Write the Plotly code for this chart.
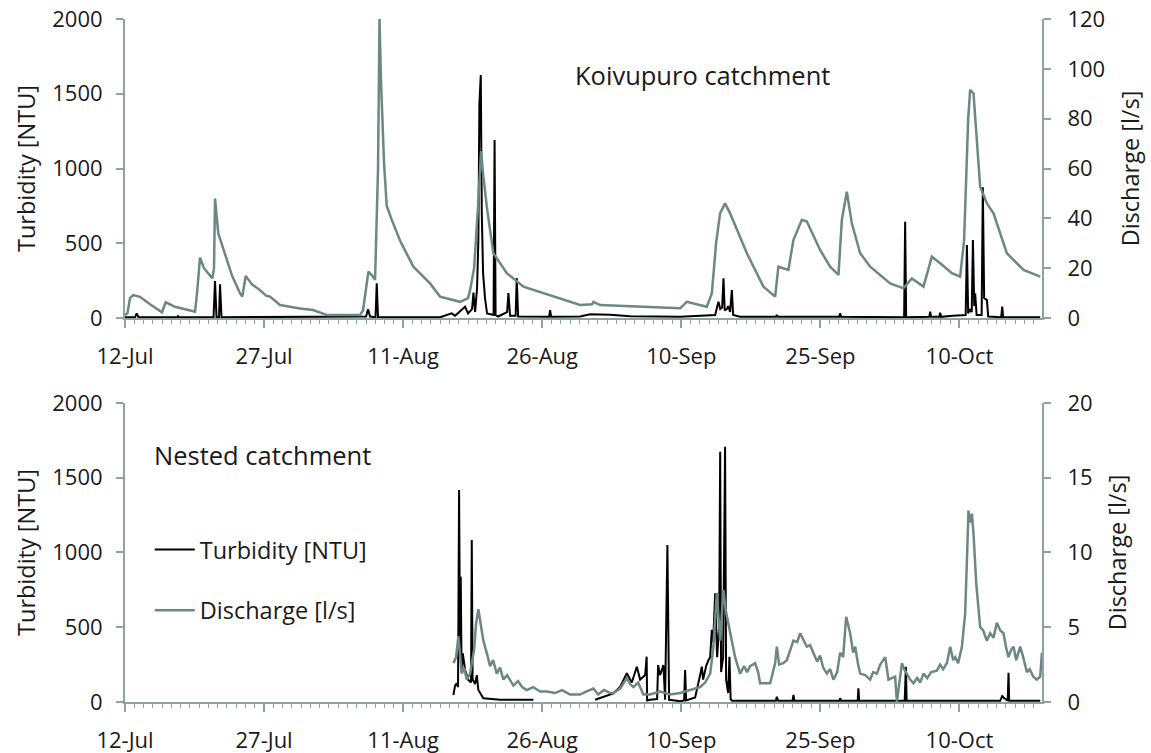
import pandas as pd
import plotly.graph_objects as go
from plotly.subplots import make_subplots

BASE = pd.Timestamp("2010-07-12")

# ---------------- Koivupuro catchment (top) ----------------
# days since 12-Jul, discharge [l/s]
top_q_days = [0, 0.27, 0.54, 0.9, 1.62, 2.7, 3.99, 4.39, 5.39, 7.55, 7.77, 8.09, 8.52, 9.42, 9.6, 9.71,
              10.06, 10.97, 11.54, 12.41, 12.65, 13.02, 13.7, 14.56, 15.21, 15.64, 16.72, 18.88, 20.28,
              21.76, 25.35, 25.67, 26.25, 26.65, 26.97, 27.29, 27.45, 27.61, 27.94, 28.23, 28.77, 29.67,
              31.1, 32.9, 33.98, 36.14, 37.0, 37.22, 37.65, 38.08, 38.4, 38.62, 39.02, 39.73, 41.18,
              42.97, 46.2, 49.08, 50.38, 50.52, 51.24, 59.87, 60.59, 62.75, 63.29, 63.75, 64.18, 64.72,
              65.26, 67.07, 68.86, 70.12, 70.47, 71.55, 72.09, 73.0, 73.54, 74.97, 76.05, 76.95, 77.31,
              77.85, 78.39, 79.29, 80.37, 82.52, 83.96, 84.86, 86.12, 87.02, 87.92, 89.18, 90.07, 90.5,
              90.94, 91.15, 91.51, 92.23, 92.96, 93.67, 95.11, 96.91, 98.71]
top_q_vals = [1.2, 2, 8, 9.2, 8.5, 5.5, 2.3, 6.3, 4.5, 2.5, 10, 24.2, 20, 15.9, 20, 48,
              34, 23.3, 17, 9.9, 8.6, 16.9, 13.5, 11.2, 9, 8.6, 5.2, 3.8, 3.2,
              1.2, 1.2, 3, 18.6, 17, 15.3, 60, 120, 95, 62, 45, 39.4, 31,
              20.6, 13.9, 8.6, 6.5, 8, 11.2, 20, 45, 67, 58, 44.7, 26, 18,
              12.6, 8.6, 5.2, 5.5, 6.5, 5.2, 3.9, 6.5, 4.5, 9.9, 30, 42, 46,
              42, 26, 12.6, 8.6, 20.6, 19.3, 31.3, 39.4, 38.7, 27.3, 20.6, 17.3, 39.4,
              50.7, 38, 26, 20.6, 13.9, 11.9, 15.9, 12.6, 24.6, 22, 18, 16.6, 31.3,
              80, 91.6, 90.2, 52.7, 46, 42, 26, 19.3, 16.6]

# days since 12-Jul, turbidity [NTU]
top_t_days = [0, 1.08, 1.26, 1.46, 5.6, 5.72, 5.84, 9.55, 9.71, 9.87, 10.14, 10.25, 10.41,
              26.0, 26.21, 26.43, 27.02, 27.15, 27.29, 33.98, 35.24, 35.6, 36.68, 37.0, 37.43,
              37.58, 37.76, 37.97, 38.11, 38.22, 38.37, 38.48, 38.62, 38.83, 39.05, 39.75, 39.86,
              39.97, 40.24, 41.21, 41.35, 41.53, 42.13, 42.25, 42.4, 43.69, 45.74, 45.85, 45.96,
              49.08, 50.16, 52.32, 54.48, 59.87, 63.65, 64.0, 64.2, 64.4, 64.55, 64.68, 64.91,
              65.05, 65.26, 65.45, 65.59, 66.34, 70.2, 70.3, 70.4, 77.03, 77.13, 77.23, 84.03,
              84.14, 84.25, 86.74, 86.84, 86.94, 87.82, 87.92, 88.02, 89.29, 90.67, 90.8, 90.94,
              91.08, 91.32, 91.45, 91.59, 91.69, 91.85, 92.39, 92.52, 92.66, 92.96, 93.1, 94.5,
              94.61, 94.71, 98.71]
top_t_vals = [5, 5, 31, 5, 5, 12, 5, 5, 247, 5, 5, 225, 5,
              10, 58, 10, 5, 232, 5, 5, 31, 15, 76, 30, 60,
              170, 40, 200, 521, 1430, 1625, 700, 300, 132, 30, 20, 1190,
              20, 10, 40, 167, 15, 15, 267, 10, 8, 8, 53, 8,
              10, 25, 22, 12, 8, 20, 109, 60, 70, 265, 50, 60,
              80, 40, 187, 20, 8, 8, 20, 8, 8, 31, 8, 5,
              644, 5, 8, 42, 8, 8, 35, 8, 15, 20, 488, 30,
              60, 40, 522, 80, 165, 20, 20, 875, 134, 120, 10, 5,
              76, 5, 5]

# ---------------- Nested catchment (bottom) ----------------
bot_q_days = [35.42, 35.71, 35.96, 36.14, 36.32, 36.57, 36.86, 37.22, 37.65, 37.86, 38.11, 38.29,
              38.65, 39.05, 39.37, 39.7, 40.1, 40.45, 40.81, 41.21, 41.89, 42.39, 42.83, 43.33,
              44.01, 44.77, 45.49, 46.39, 47.14, 48.0, 49.08, 49.73, 50.52, 51.03, 51.67, 52.32,
              52.67, 53.4, 54.12, 54.48, 54.83, 55.34, 55.91, 56.63, 57.71, 58.79, 59.87, 60.95,
              62.03, 62.57, 63.11, 63.43, 63.83, 64.19, 64.54, 64.83, 65.26, 65.8, 66.34, 66.77,
              67.1, 67.42, 67.96, 68.28, 68.5, 69.58, 70.12, 70.3, 70.55, 70.98, 71.38, 71.74,
              72.09, 72.49, 72.82, 73.14, 73.54, 73.89, 74.25, 74.65, 74.97, 75.3, 75.69, 76.05,
              76.41, 76.81, 77.13, 77.45, 77.78, 77.99, 78.21, 78.53, 78.75, 79.07, 79.29, 79.83,
              80.37, 80.69, 81.09, 81.45, 81.99, 82.34, 82.74, 83.06, 83.25, 83.5, 83.79, 84.04,
              84.33, 84.68, 85.04, 85.44, 85.76, 86.12, 86.52, 86.95, 87.56, 87.92, 88.24, 88.64,
              89.0, 89.32, 89.54, 89.86, 90.26, 90.4, 90.61, 90.83, 90.97, 91.15, 91.34, 91.51,
              91.8, 92.23, 92.55, 92.95, 93.31, 93.67, 94.03, 94.39, 94.75, 95.04, 95.29, 95.58,
              95.83, 96.12, 96.55, 96.87, 97.27, 97.57, 97.95, 98.33, 98.71, 98.89]
bot_q_vals = [2.6, 3.0, 4.4, 3.0, 1.9, 2.3, 1.5, 1.9, 3.5, 5.2, 6.2, 5.5,
              4.1, 3.2, 2.4, 2.8, 1.9, 2.3, 1.5, 1.8, 1.1, 1.4, 1.0, 0.8,
              1.0, 0.7, 0.7, 0.6, 0.8, 0.5, 0.5, 0.7, 0.9, 0.5, 0.8, 0.6,
              0.6, 0.9, 1.6, 1.2, 1.0, 1.3, 0.5, 0.5, 0.7, 0.5, 0.6, 0.8,
              1.0, 1.3, 1.9, 3.5, 7.3, 4.1, 7.5, 6.0, 4.6, 3.0, 1.9, 2.4,
              2.0, 2.4, 2.6, 2.0, 1.25, 1.25, 2.6, 3.7, 2.5, 2.6, 2.8, 3.5,
              4.1, 4.0, 4.6, 4.2, 3.7, 3.8, 3.3, 2.7, 3.1, 2.3, 1.9, 2.2,
              1.5, 2.0, 3.3, 3.0, 5.7, 5.2, 4.6, 3.3, 3.7, 2.5, 1.9, 1.8,
              1.5, 2.0, 1.9, 2.5, 3.0, 1.5, 1.6, 1.7, 0.0, 1.2, 2.6, 2.2,
              1.9, 1.5, 1.25, 1.6, 1.3, 1.9, 1.6, 2.0, 2.1, 2.5, 2.2, 2.6,
              3.7, 2.8, 3.0, 2.6, 3.7, 4.5, 5.9, 10.0, 12.8, 12.0, 12.6, 11.3,
              8.0, 5.0, 4.8, 4.1, 4.6, 4.3, 5.3, 4.8, 4.6, 3.6, 3.0, 3.5,
              3.7, 2.8, 3.7, 3.0, 2.0, 2.2, 1.7, 1.5, 1.7, 3.3]

# None marks the gap in the turbidity record
bot_t_days = [35.42, 35.6, 35.78, 35.92, 36.03, 36.14, 36.21, 36.3, 36.43, 36.68, 37.03, 37.32,
              37.4, 37.49, 37.76, 37.94, 38.11, 38.65, 40.45, 44.05, None,
              50.7, 52.67, 53.4, 54.12, 54.66, 55.2, 55.56, 56.1, 56.26, 56.31, 56.63, 57.39,
              57.5, 57.71, 58.07, 58.25, 58.5, 58.68, 59.33, 59.87, 60.3, 60.41, 60.52, 61.49,
              62.03, 62.21, 62.35, 62.68, 62.93, 63.11, 63.29, 63.43, 63.65, 63.86, 64.08, 64.19,
              64.29, 64.51, 64.72, 64.83, 65.05, 65.19, 65.32, 65.48, 68.5, 70.2, 70.3, 70.45,
              72.0, 72.09, 72.2, 77.05, 77.13, 77.25, 79.02, 79.1, 79.18, 84.09, 84.22, 84.3,
              94.39, 94.61, 94.75, 95.2, 95.29, 95.36, 98.71]
bot_t_vals = [47, 110, 125, 100, 1418, 300, 838, 200, 326, 214, 147, 130,
              1084, 150, 120, 180, 80, 25, 15, 15, None,
              15, 58, 100, 192, 130, 236, 150, 180, 303, 10, 15, 20,
              247, 180, 247, 15, 1050, 15, 10, 5, 10, 214, 10, 30,
              180, 236, 150, 240, 281, 300, 482, 400, 727, 300, 500, 1674,
              200, 300, 1708, 150, 60, 303, 20, 8, 8, 8, 35, 8,
              8, 47, 8, 8, 25, 8, 8, 92, 8, 8, 236, 8,
              8, 40, 30, 8, 196, 8, 8]

TICK_LABELS = ["12-Jul", "27-Jul", "11-Aug", "26-Aug", "10-Sep", "25-Sep", "10-Oct"]


def to_dates(days):
    return [None if d is None else BASE + pd.Timedelta(days=d) for d in days]


BLACK = "#000000"
GREY = "#6d8784"
AXIS = "#8ea3a1"
FONT = "Open Sans"
TXT = "#1a1a1a"

fig = make_subplots(rows=2, cols=1, specs=[[{"secondary_y": True}], [{"secondary_y": True}]])

fig.add_trace(go.Scatter(x=to_dates(top_q_days), y=top_q_vals, mode="lines",
                         line=dict(color=GREY, width=2.5), name="Discharge [l/s]",
                         showlegend=False), row=1, col=1, secondary_y=True)
fig.add_trace(go.Scatter(x=to_dates(top_t_days), y=top_t_vals, mode="lines",
                         line=dict(color=BLACK, width=2), name="Turbidity [NTU]",
                         showlegend=False), row=1, col=1, secondary_y=False)
fig.add_trace(go.Scatter(x=to_dates(bot_q_days), y=bot_q_vals, mode="lines",
                         line=dict(color=GREY, width=2.5), name="Discharge [l/s]",
                         legendgroup="q", legendrank=2), row=2, col=1, secondary_y=True)
fig.add_trace(go.Scatter(x=to_dates(bot_t_days), y=bot_t_vals, mode="lines", connectgaps=False,
                         line=dict(color=BLACK, width=2), name="Turbidity [NTU]",
                         legendgroup="t", legendrank=1), row=2, col=1, secondary_y=False)

x_start = BASE
x_end = BASE + pd.Timedelta(days=98.9)
tickvals = [BASE + pd.Timedelta(days=15 * i) for i in range(len(TICK_LABELS))]

TICKSIZE = 22
TITLESIZE = 23.5

xcommon = dict(
    range=[x_start, x_end], tickvals=tickvals, ticktext=TICK_LABELS, automargin=False,
    showline=True, linecolor=AXIS, linewidth=2, ticks="outside", ticklen=8, tickwidth=1.5,
    tickcolor=AXIS, showgrid=False, zeroline=False, ticklabeloverflow="allow",
    minor=dict(ticks="outside", ticklen=4, tickcolor=AXIS, tickwidth=1,
               dtick=86400000, tick0=BASE, showgrid=False),
    tickfont=dict(family=FONT, size=TICKSIZE, color=TXT), ticklabelstandoff=10,
)
fig.update_xaxes(**xcommon)

ycommon = dict(showline=True, linecolor=AXIS, linewidth=2, ticks="outside", ticklen=7,
               tickcolor=AXIS, tickwidth=1.5, showgrid=False, zeroline=False, automargin=False,
               ticklabeloverflow="allow",
               tickfont=dict(family=FONT, size=TICKSIZE, color=TXT))

fig.update_yaxes(range=[0, 2000], dtick=500, ticklabelstandoff=9,
                 title=dict(text="Turbidity [NTU]", font=dict(family=FONT, size=TITLESIZE, color=TXT), standoff=10),
                 row=1, col=1, secondary_y=False, **ycommon)
fig.update_yaxes(range=[0, 120], dtick=20, ticklabelstandoff=12,
                 title=dict(text="Discharge [l/s]", font=dict(family=FONT, size=TITLESIZE, color=TXT), standoff=18),
                 row=1, col=1, secondary_y=True, **ycommon)
fig.update_yaxes(range=[0, 2000], dtick=500, ticklabelstandoff=9,
                 title=dict(text="Turbidity [NTU]", font=dict(family=FONT, size=TITLESIZE, color=TXT), standoff=10),
                 row=2, col=1, secondary_y=False, **ycommon)
fig.update_yaxes(range=[0, 20], dtick=5, ticklabelstandoff=12,
                 title=dict(text="Discharge [l/s]", font=dict(family=FONT, size=TITLESIZE, color=TXT), standoff=18),
                 row=2, col=1, secondary_y=True, **ycommon)

# domains: top panel 19..318 px, bottom 403..702 px of the window
fig.update_layout(
    yaxis=dict(domain=[0.5622, 1.0]), yaxis2=dict(domain=[0.5622, 1.0]),
    yaxis3=dict(domain=[0.0, 0.4378]), yaxis4=dict(domain=[0.0, 0.4378]),
    xaxis=dict(domain=[0, 1]), xaxis2=dict(domain=[0, 1]),
)

fig.add_annotation(text="Koivupuro catchment", xref="paper", yref="paper", x=0.4886, y=0.918,
                   xanchor="left", yanchor="middle", showarrow=False,
                   font=dict(family=FONT, size=25.5, color=TXT))
fig.add_annotation(text="Nested catchment", xref="paper", yref="paper", x=0.029, y=0.3616,
                   xanchor="left", yanchor="middle", showarrow=False,
                   font=dict(family=FONT, size=25.5, color=TXT))

fig.update_layout(
    width=1151, height=753,
    margin=dict(l=125, r=109, t=19, b=51),
    paper_bgcolor="white", plot_bgcolor="white",
    showlegend=True,
    legend=dict(x=0.027, y=0.255, xanchor="left", yanchor="top", traceorder="grouped",
                tracegroupgap=27, bgcolor="rgba(0,0,0,0)", itemwidth=40,
                font=dict(family=FONT, size=TITLESIZE, color=TXT)),
)

# remove the browser's default page margin so the figure fills the window exactly
fig.write_html("out.html", config={"displayModeBar": False},
               post_script="document.body.style.margin='0';document.body.style.overflow='hidden';")
